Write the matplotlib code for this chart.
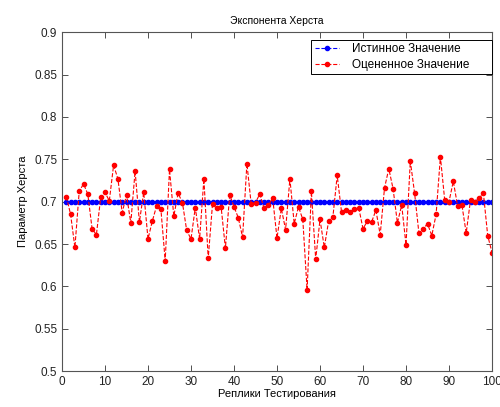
import numpy as np
import matplotlib
matplotlib.use("Agg")
import matplotlib.pyplot as plt
from matplotlib.ticker import FuncFormatter

plt.rcParams['font.family'] = ['Liberation Sans', 'DejaVu Sans']

# replicas 1..100
replicas = np.arange(1, 101)
true_value = [0.7] * 100
estimated = [
    0.706, 0.685, 0.646, 0.712, 0.721, 0.709, 0.668, 0.661, 0.705, 0.711,
    0.701, 0.743, 0.727, 0.687, 0.708, 0.675, 0.736, 0.676, 0.711, 0.656,
    0.677, 0.695, 0.691, 0.630, 0.738, 0.683, 0.710, 0.699, 0.666, 0.656,
    0.693, 0.656, 0.727, 0.633, 0.697, 0.692, 0.694, 0.645, 0.708, 0.694,
    0.681, 0.658, 0.745, 0.697, 0.699, 0.709, 0.692, 0.696, 0.704, 0.657,
    0.692, 0.667, 0.727, 0.674, 0.694, 0.679, 0.596, 0.712, 0.632, 0.679,
    0.646, 0.677, 0.682, 0.731, 0.688, 0.690, 0.688, 0.691, 0.693, 0.668,
    0.677, 0.676, 0.690, 0.661, 0.716, 0.739, 0.715, 0.675, 0.696, 0.649,
    0.748, 0.710, 0.663, 0.668, 0.674, 0.660, 0.685, 0.753, 0.702, 0.700,
    0.724, 0.695, 0.696, 0.663, 0.702, 0.700, 0.704, 0.710, 0.660, 0.640,
]

fig = plt.figure(figsize=(5.0, 4.07), dpi=100)
ax = fig.add_axes([0.124, 0.088, 0.86, 0.833])

ax.plot(replicas, true_value, '--', color='blue', marker='.', markersize=6,
        linewidth=0.8, label='Истинное Значение')
ax.plot(replicas, estimated, '--', color='red', marker='.', markersize=6,
        linewidth=0.8, label='Оцененное Значение')

ax.set_xlim(0, 100)
ax.set_ylim(0.5, 0.9)
ax.set_xticks(np.arange(0, 101, 10))
ax.set_yticks(np.arange(0.5, 0.901, 0.05))
ax.yaxis.set_major_formatter(FuncFormatter(lambda v, p: '%g' % round(v, 2)))
ax.tick_params(direction='in', top=True, right=True, labelsize=8.5,
               length=4, width=0.6, colors='#333333', labelcolor='#222222')
for s in ax.spines.values():
    s.set_color('#555555')
    s.set_linewidth(0.8)

ax.set_title('Экспонента Херста', fontsize=7.5, pad=6)
ax.set_xlabel('Реплики Тестирования', fontsize=8, labelpad=1)
ax.set_ylabel('Параметр Херста', fontsize=8, labelpad=4)

leg = ax.legend(loc='upper left', bbox_to_anchor=(0.579, 0.878, 0.421, 0.1),
                mode='expand', fontsize=8.5, fancybox=False, edgecolor='black',
                framealpha=1, borderaxespad=0, handlelength=2.1,
                borderpad=0.3, labelspacing=0.3, handletextpad=1.1)
leg.get_frame().set_linewidth(0.7)

fig.savefig('out.png', dpi=100)
